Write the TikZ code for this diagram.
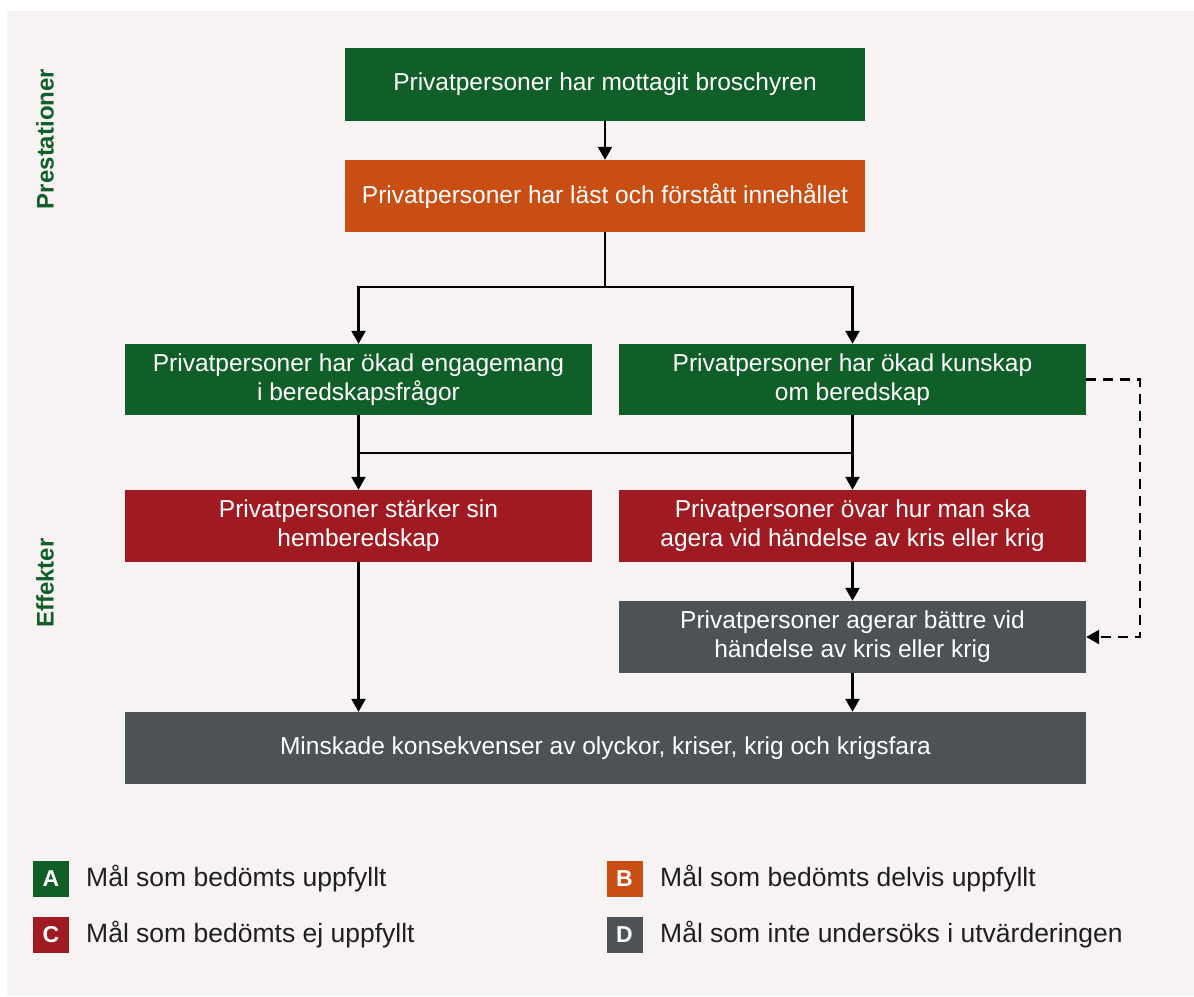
\documentclass[tikz,border=0pt]{standalone}
\usepackage{fontspec}
\setmainfont{Liberation Sans}
\usetikzlibrary{arrows.meta}
\definecolor{bg}{RGB}{247,243,242}
\definecolor{cgreen}{RGB}{16,94,40}
\definecolor{corange}{RGB}{201,78,20}
\definecolor{cred}{RGB}{160,26,34}
\definecolor{cgrey}{RGB}{77,82,87}
\begin{document}
\begin{tikzpicture}[x=1pt,y=-1pt,
  box/.style={rectangle,inner sep=0pt,text=white,align=center,font=\fontsize{24.5}{29}\selectfont},
  conn/.style={line width=2.4pt,-{Triangle[width=14pt,length=13pt]}},
  plain/.style={line width=2.4pt},
  dconn/.style={line width=2.4pt,dash pattern=on 10pt off 7pt,-{Triangle[width=14pt,length=13pt]}},
  side/.style={text=cgreen,font=\fontsize{24}{26}\selectfont\bfseries,rotate=90},
  leg/.style={rectangle,inner sep=0pt,minimum width=36pt,minimum height=36pt,text=white,font=\fontsize{23}{24}\selectfont\bfseries},
  legtxt/.style={anchor=west,inner sep=0pt,text=black!88,font=\fontsize{26.5}{30}\selectfont}]
\useasboundingbox (0,0) rectangle (1194,996);
\fill[bg] (7,11) rectangle (1194,996);
% side labels
\node[side] (lp) at (45,139) {Prestationer};
\node[side] (le) at (45,583) {Effekter};
% boxes
\node[box,fill=cgreen,minimum width=520pt,minimum height=73pt] (b1) at (605,84.5) {Privatpersoner har mottagit broschyren};
\node[box,fill=corange,minimum width=520pt,minimum height=72pt] (b2) at (605,196) {Privatpersoner har läst och förstått innehållet};
\node[box,fill=cgreen,minimum width=467pt,minimum height=71pt] (b3) at (358.5,379.5) {Privatpersoner har ökad engagemang\\i beredskapsfrågor};
\node[box,fill=cgreen,minimum width=467pt,minimum height=71pt] (b4) at (852.5,379.5) {Privatpersoner har ökad kunskap\\om beredskap};
\node[box,fill=cred,minimum width=467pt,minimum height=72pt] (b5) at (358.5,526) {Privatpersoner stärker sin\\hemberedskap};
\node[box,fill=cred,minimum width=467pt,minimum height=72pt] (b6) at (852.5,526) {Privatpersoner övar hur man ska\\agera vid händelse av kris eller krig};
\node[box,fill=cgrey,minimum width=467pt,minimum height=72pt] (b7) at (852.5,637) {Privatpersoner agerar bättre vid\\händelse av kris eller krig};
\node[box,fill=cgrey,minimum width=961pt,minimum height=72pt] (b8) at (605.5,748) {Minskade konsekvenser av olyckor, kriser, krig och krigsfara};
% connectors
\coordinate (j1) at (605,287);
\coordinate (j2) at (358.5,453);
\coordinate (j3) at (852.5,453);
\coordinate (d1) at (1140,379.5);
\coordinate (d2) at (1140,637);
\draw[conn] (b1) -- (b2);
\draw[plain] (b2) -- (j1);
\draw[conn] (j1) -| (b3);
\draw[conn] (j1) -| (b4);
\draw[conn] (b3) -- (b5);
\draw[conn] (b4) -- (b6);
\draw[plain] (j2) -- (j3);
\draw[conn] (b6) -- (b7);
\draw[conn] (b7) -- (b8.north -| b7);
\draw[conn] (b5) -- (b8.north -| b5);
\draw[dconn] (b4.east) -- (d1) -- (d2) -- (b7.east);
% legend
\node[leg,fill=cgreen] (la) at (51,878.5) {A};
\node[legtxt] (lta) at (86,878.5) {Mål som bedömts uppfyllt};
\node[leg,fill=cred] (lc) at (51,935) {C};
\node[legtxt] (ltc) at (86,935) {Mål som bedömts ej uppfyllt};
\node[leg,fill=corange] (lb) at (624.5,878.5) {B};
\node[legtxt] (ltb) at (660,878.5) {Mål som bedömts delvis uppfyllt};
\node[leg,fill=cgrey] (ld) at (624.5,935) {D};
\node[legtxt] (ltd) at (660,935) {Mål som inte undersöks i utvärderingen};
\end{tikzpicture}
\end{document}
